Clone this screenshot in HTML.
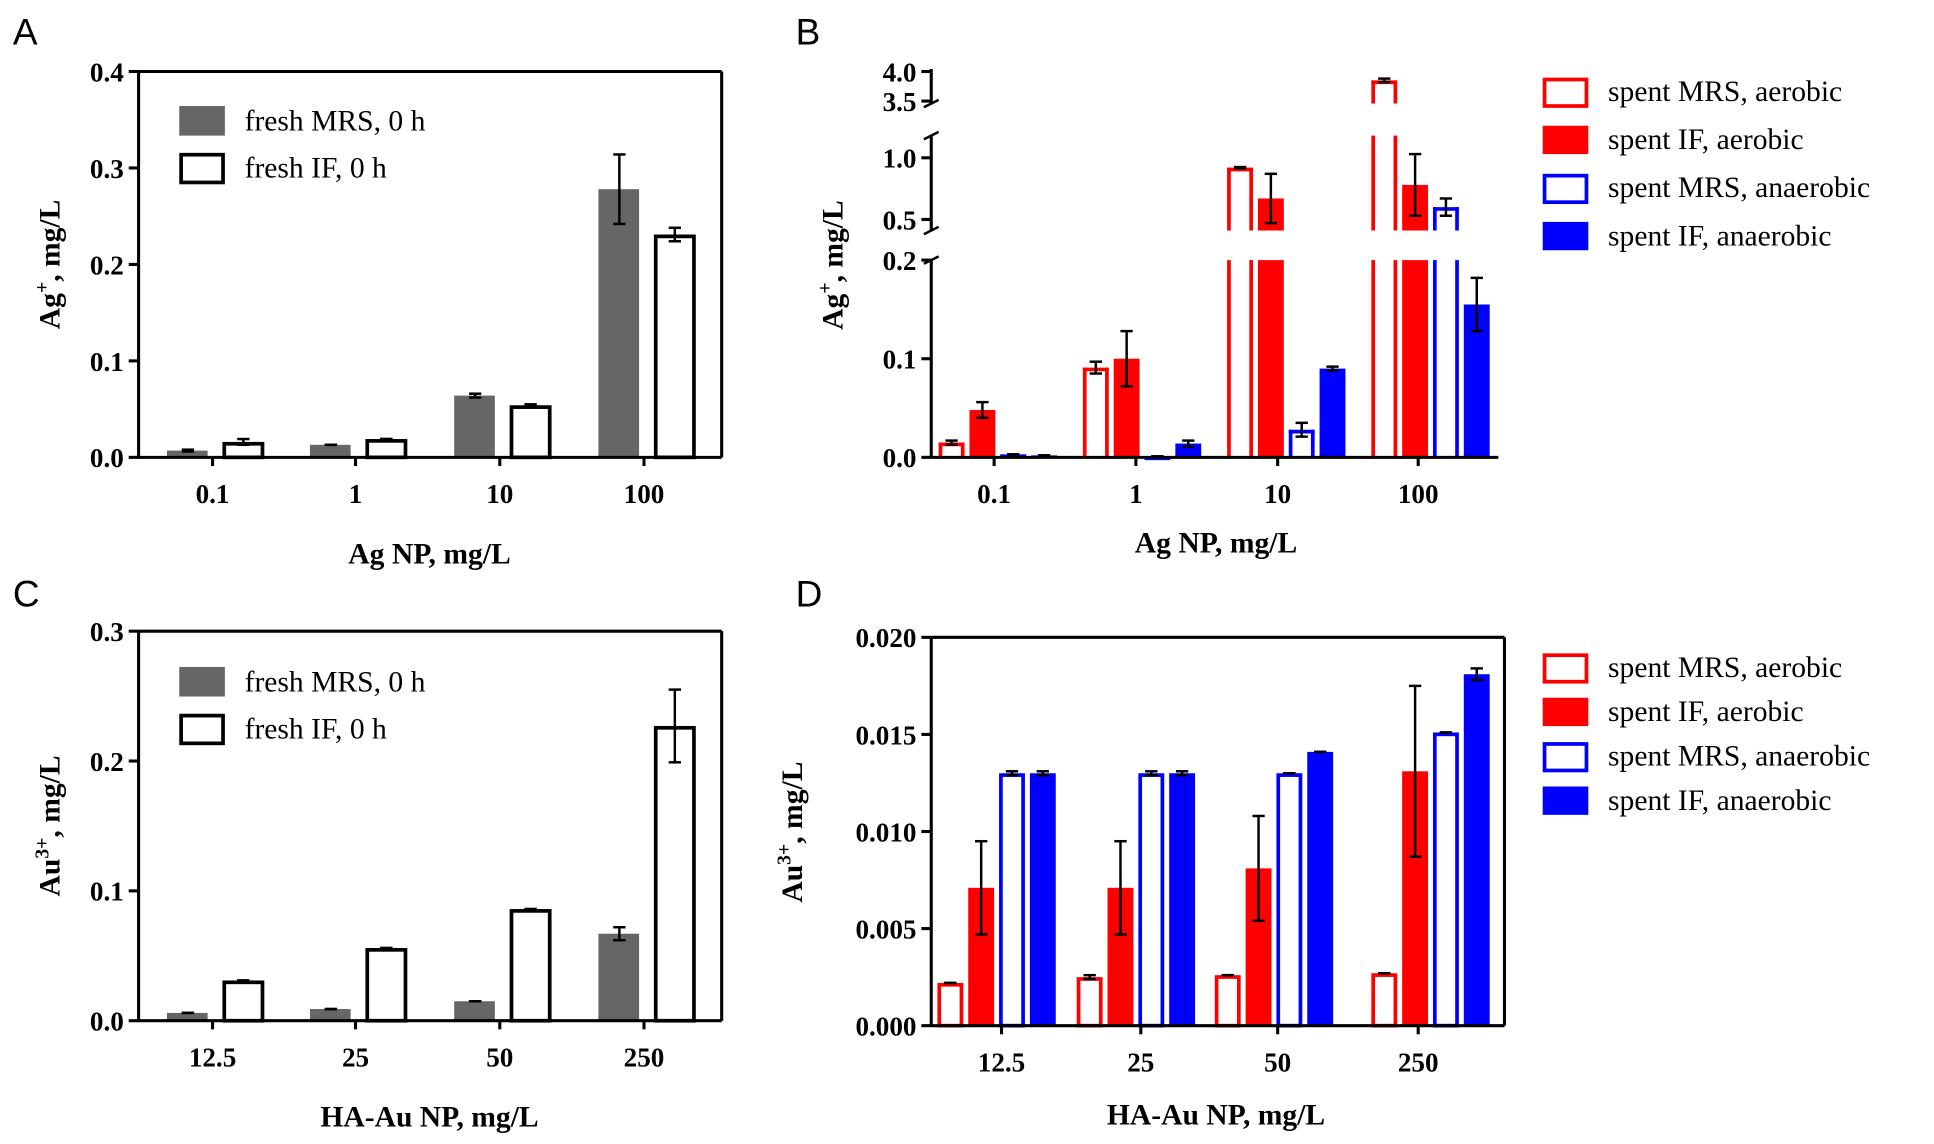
<!DOCTYPE html>
<html><head><meta charset="utf-8"><style>
html,body{margin:0;padding:0;background:#fff;}
svg{display:block;}
text{font-family:"Liberation Serif",serif;}
</style></head><body>
<svg id="s" width="1934" height="1144" viewBox="0 0 1568 928" xmlns="http://www.w3.org/2000/svg"></svg>
<script>
const s=document.getElementById('s');let h='';
function L(x1,y1,x2,y2,w,c){h+=`<line x1="${x1}" y1="${y1}" x2="${x2}" y2="${y2}" stroke="${c||'#000'}" stroke-width="${w||2.5}"/>`;}
function T(x,y,t,o){o=o||{};h+=`<text x="${x}" y="${y}" font-size="${o.fs||22}" font-weight="${o.fw||'bold'}" text-anchor="${o.a||'middle'}" ${o.tr?`transform="${o.tr}"`:''} ${o.ff?`style='font-family:${o.ff}'`:''}>${t}</text>`;}
function R(x,y,w,hh,fill,stroke){
 if(hh<0){y+=hh;hh=-hh;}
 if(stroke) h+=`<rect x="${x+1.5}" y="${y+1.5}" width="${w-3}" height="${Math.max(hh-1.5,0.5)}" fill="#fff" stroke="${stroke}" stroke-width="3"/>`;
 else h+=`<rect x="${x}" y="${y}" width="${w}" height="${hh}" fill="${fill}"/>`;}
function E(x,y1,y2){L(x,y1,x,y2,2);L(x-5,y1,x+5,y1,2);L(x-5,y2,x+5,y2,2);}
[['A',10,36],['B',645,36],['C',10,492],['D',645,492]].forEach(a=>T(a[1],a[2],a[0],{fs:30,fw:'normal',a:'start',ff:'"Liberation Sans",sans-serif'}));
function simple(top,bot,max,step,dec,cats,g,w,ge,we,leg,xl,yl){
 const left=112,right=585,sc=(bot-top)/max,Y=v=>bot-v*sc;
 cats.forEach((c,i)=>{const cx=[172,288,405,522][i];
  R(cx-37,bot,33,-g[i]*sc,'#666');
  R(cx+8,bot,34,-w[i]*sc,null,'#000');
  if(ge[i])E(cx-20,Y(g[i]-ge[i]),Y(g[i]+ge[i]));else E(cx-20,Y(g[i]),Y(g[i]));
  if(we[i])E(cx+25,Y(w[i]-we[i]),Y(w[i]+we[i]));else E(cx+25,Y(w[i]),Y(w[i]));
  L(cx,bot,cx,bot+7);T(cx,bot+37,c);});
 L(left,top,left,bot+1);L(left,bot,right,bot);L(right,top,right,bot);L(left,top,right,top);
 for(let v=0;v<=max+1e-9;v+=step){const y=Y(v);L(left-8,y,left,y);T(left-12,y+8,v.toFixed(dec),{a:'end'});}
 R(145,leg,37,24,'#666');R(145,leg+38,37,24,null,'#000');
 T(198,leg+20,'fresh MRS, 0 h',{fs:24,fw:'normal',a:'start'});T(198,leg+58,'fresh IF, 0 h',{fs:24,fw:'normal',a:'start'});
 T(348,bot+86,xl,{fs:24});
 h+=`<text x="0" y="0" font-size="24" font-weight="bold" text-anchor="middle" transform="translate(48,${(top+bot)/2}) rotate(-90)">${yl}</text>`;
}
simple(58,371,0.4,0.1,1,['0.1','1','10','100'],[0.007,0.013,0.064,0.278],[0.016,0.019,0.054,0.231],[0.001,0,0.002,0.036],[0.003,0,0.001,0.007],86,'Ag NP, mg/L','Ag<tspan dy="-9" font-size="16">+</tspan><tspan dy="9">, mg/L</tspan>');
simple(512,828,0.3,0.1,1,['12.5','25','50','250'],[0.006,0.009,0.015,0.067],[0.031,0.056,0.086,0.227],[0,0,0,0.005],[0,0,0,0.028],541,'HA-Au NP, mg/L','Au<tspan dy="-9" font-size="16">3+</tspan><tspan dy="9">, mg/L</tspan>');
function leg4(y0,dy){const it=[['spent MRS, aerobic','#f00',1],['spent IF, aerobic','#f00',0],['spent MRS, anaerobic','#00f',1],['spent IF, anaerobic','#00f',0]];
 it.forEach((a,i)=>{const y=y0+i*dy;R(1251,y-11,37,23,a[2]?null:a[1],a[2]?a[1]:null);T(1304,y+8,a[0],{fs:24,fw:'normal',a:'start'});});}
leg4(74,39);leg4(541,36);
const cols=[['#f00',1],['#f00',0],['#00f',1],['#00f',0]];
(function(){const left=755,right=1215,bot=371;
 const Yv=v=>{if(v<=0.2)return bot-v*800; if(v<=1.1)return 178-(v-0.5)*100; return 82-(v-3.5)*48;};
 const segs=[[211,bot],[110,187],[56,84]];
 const starts=[761,878,995,1112];
 const vals=[[0.015,0.048,0.003,0.002],[0.091,0.1,0.001,0.014],[0.92,0.67,0.028,0.09],[3.85,0.78,0.6,0.155]];
 const errs=[[0.002,0.008,0,0],[0.006,0.028,0,0.003],[0.005,0.2,0.007,0.002],[0.03,0.25,0.07,0.027]];
 starts.forEach((x0,i)=>{vals[i].forEach((v,j)=>{const x=x0+j*25,c=cols[j];
   const yt=Yv(v);
   segs.forEach(sg=>{if(yt<sg[1]){const a=Math.max(yt,sg[0]);
     if(!c[1]) R(x,a,21,sg[1]-a,c[0]);
     else{L(x+1.5,a,x+1.5,sg[1],3,c[0]);L(x+19.5,a,x+19.5,sg[1],3,c[0]);
       if(yt>=sg[0]) L(x,yt+1.5,x+21,yt+1.5,3,c[0]);}}});
   const e=errs[i][j];E(x+10.5,Yv(Math.max(v-e,0)),Yv(v+e));});
  const cx=[806,921,1036,1150][i];L(cx,bot,cx,bot+7);T(cx,bot+37,['0.1','1','10','100'][i]);});
 L(left,bot,right,bot);
 segs.forEach(sg=>{L(left,sg[0],left,sg[1]);});
 [[0,'0.0'],[0.1,'0.1'],[0.2,'0.2'],[0.5,'0.5'],[1.0,'1.0'],[3.5,'3.5'],[4.0,'4.0']].forEach(t=>{const y=Yv(t[0]);L(left-8,y,left,y);T(left-12,y+8,t[1],{a:'end'});});
 [187,211,84,110].forEach(y=>{h+=`<path d="M${left-6},${y+3} q6,-3 12,-6" stroke="#000" stroke-width="2" fill="none"/>`;});
 T(986,bot+77,'Ag NP, mg/L',{fs:24});
 h+=`<text font-size="24" font-weight="bold" text-anchor="middle" transform="translate(683,215) rotate(-90)">Ag<tspan dy="-9" font-size="16">+</tspan><tspan dy="9">, mg/L</tspan></text>`;
})();
(function(){const left=755,right=1220,top=517,bot=832,sc=(bot-top)/0.02,Y=v=>bot-v*sc;
 const starts=[760,873,985,1112];
 const vals=[[0.0022,0.0071,0.013,0.013],[0.0025,0.0071,0.013,0.013],[0.0026,0.0081,0.013,0.0141],[0.0027,0.0131,0.0151,0.0181]];
 const errs=[[0,0.0024,0.0001,0.0001],[0.0001,0.0024,0.0001,0.0001],[0,0.0027,0,0],[0,0.0044,0,0.0003]];
 starts.forEach((x0,i)=>{vals[i].forEach((v,j)=>{const x=x0+j*25,c=cols[j];
   R(x,bot,21,-v*sc,c[1]?null:c[0],c[1]?c[0]:null);const e=errs[i][j];E(x+10.5,Y(v-e),Y(v+e));});
  const cx=[812,925,1036,1150][i];L(cx,bot,cx,bot+7);T(cx,bot+37,['12.5','25','50','250'][i]);});
 L(left,top,left,bot+1);L(left,bot,right,bot);L(right,top,right,bot);L(left,top,right,top);
 for(let k=0;k<=4;k++){const v=k*0.005,y=Y(v);L(left-8,y,left,y);T(left-12,y+8,v.toFixed(3),{a:'end'});}
 T(986,bot+80,'HA-Au NP, mg/L',{fs:24});
 h+=`<text font-size="24" font-weight="bold" text-anchor="middle" transform="translate(650,675) rotate(-90)">Au<tspan dy="-9" font-size="16">3+</tspan><tspan dy="9">, mg/L</tspan></text>`;
})();
s.innerHTML=h;
</script>
</body></html>
